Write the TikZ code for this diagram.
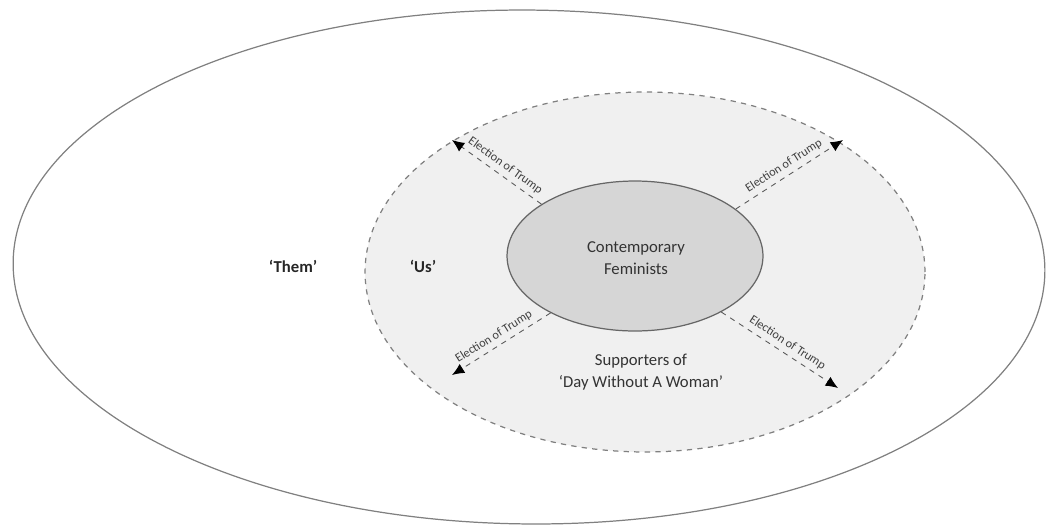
\documentclass[tikz,border=0pt]{standalone}
\usepackage{fontspec}
\setmainfont{Carlito}
\usepackage{tikz}
\usetikzlibrary{shapes,arrows.meta}

\begin{document}
\begin{tikzpicture}[x=0.02cm,y=-0.02cm,
  ring/.style={ellipse,draw=black!50,inner sep=0pt,line width=0.7pt},
  group/.style={font=\bfseries\fontsize{9.5}{12}\selectfont,text=black!85},
  caption/.style={font=\fontsize{9.5}{12.5}\selectfont,text=black!80,align=center},
  push/.style={draw=black!65,dashed,line width=0.5pt,-{Latex[length=7pt,width=6pt,color=black,fill=black]}},
  elect/.style={font=\fontsize{7}{9}\selectfont,text=black!75,sloped,above,inner sep=2.5pt}]
\useasboundingbox (0,0) rectangle (1050,528);
% the three circles
\node[ring,minimum width=20.64cm,minimum height=10.28cm,rotate=-0.5] (them) at (529,267) {};
\node[ring,dashed,fill=black!6,minimum width=11.2cm,minimum height=7.2cm] (us) at (645,272) {};
\node[ring,fill=black!16,draw=black!60,minimum width=5.12cm,minimum height=3cm] (core) at (635,256) {};
% labels
\node[group] (themlbl) at (293,266) {‘Them’};
\node[group] (uslbl) at (423,266) {‘Us’};
\node[caption] (corelbl) at (636,258) {Contemporary\\Feminists};
\node[caption] (dwaw) at (641,372) {Supporters of\\‘Day Without A Woman’};
% arrow ends
\coordinate (nwtip) at (452,140);
\coordinate (netip) at (843,140);
\coordinate (swtip) at (452,375);
\coordinate (setip) at (838,388);
% pushed outwards
\draw[push] (core.151) -- node[elect,pos=0.47] {Election of Trump} (nwtip);
\draw[push] (core.25) -- node[elect,pos=0.5] {Election of Trump} (netip);
\draw[push] (core.214) -- node[elect,pos=0.52] {Election of Trump} (swtip);
\draw[push] (core.-33) -- node[elect,pos=0.52] {Election of Trump} (setip);
\end{tikzpicture}
\end{document}
